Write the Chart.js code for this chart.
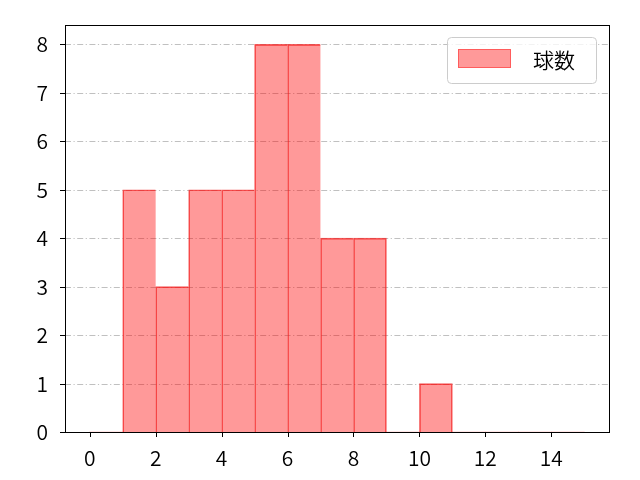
<!DOCTYPE html>
<html>
<head>
<meta charset="utf-8">
<script src="https://cdn.jsdelivr.net/npm/chart.js@4/dist/chart.umd.min.js"></script>
<style>
  html, body { margin: 0; padding: 0; background: #fff; }
  #wrap { width: 640px; height: 480px; }
</style>
</head>
<body>
<div id="wrap"><canvas id="hist"></canvas></div>
<script>
// histogram bins (left edge) and counts
var bin_starts = [0, 1, 2, 3, 4, 5, 6, 7, 8, 9, 10, 11, 12, 13, 14];
var counts = [0, 5, 3, 5, 5, 8, 8, 4, 4, 0, 1, 0, 0, 0, 0];
var x_ticks = [0, 2, 4, 6, 8, 10, 12, 14];
var y_ticks = [0, 1, 2, 3, 4, 5, 6, 7, 8];
var series_label = '球数';

var font_family = '"Noto Sans CJK JP", "DejaVu Sans", sans-serif';
var font_weight = '350';

var points = [];
for (let i = 0; i < bin_starts.length; i++) {
    points.push({ x: bin_starts[i] + 0.5, y: counts[i] });
}

// one edge line between neighbouring bars, like matplotlib
function bar_border(c) {
    var i = c.dataIndex;
    if (!(counts[i] > 0)) return 0;
    var next = counts[i + 1] || 0;
    return { left: 1, top: 1, bottom: 0, right: next > 0 ? 0 : 1 };
}

// frame, dash-dot grid, tick marks and legend box
var mpl_plugin = {
    id: 'mpl',
    beforeDatasetsDraw: function(chart) {
        var ctx = chart.ctx;
        var a = chart.chartArea;
        var ys = chart.scales.y;
        ctx.save();
        ctx.strokeStyle = '#b0b0b0';
        ctx.lineWidth = 0.8;
        ctx.setLineDash([6, 2.5, 1.2, 2.5]);
        y_ticks.forEach(function(v) {
            var py = Math.round(ys.getPixelForValue(v)) + 0.5;
            ctx.beginPath();
            ctx.moveTo(a.left, py);
            ctx.lineTo(a.right, py);
            ctx.stroke();
        });
        ctx.restore();
    },
    afterDatasetsDraw: function(chart) {
        var ctx = chart.ctx;
        var a = chart.chartArea;
        var xs = chart.scales.x;
        var ys = chart.scales.y;
        ctx.save();
        ctx.strokeStyle = '#000';
        ctx.lineWidth = 1;
        ctx.strokeRect(Math.round(a.left) + 0.5, Math.round(a.top) + 0.5,
            Math.round(a.right - a.left), Math.round(a.bottom - a.top));
        ctx.beginPath();
        x_ticks.forEach(function(v) {
            var px = Math.round(xs.getPixelForValue(v)) + 0.5;
            ctx.moveTo(px, a.bottom);
            ctx.lineTo(px, a.bottom + 5);
        });
        y_ticks.forEach(function(v) {
            var py = Math.round(ys.getPixelForValue(v)) + 0.5;
            ctx.moveTo(a.left, py);
            ctx.lineTo(a.left - 5, py);
        });
        ctx.stroke();

        // legend
        var bx = a.right - 162, by = a.top + 12, bw = 149, bh = 46;
        ctx.fillStyle = 'rgba(255,255,255,0.8)';
        ctx.strokeStyle = '#cccccc';
        ctx.lineWidth = 1;
        ctx.beginPath();
        ctx.roundRect(bx + 0.5, by + 0.5, bw, bh, 4);
        ctx.fill();
        ctx.stroke();
        ctx.fillStyle = 'rgba(255,0,0,0.4)';
        ctx.strokeStyle = 'rgba(255,0,0,0.4)';
        ctx.fillRect(bx + 11, by + 12, 53, 19);
        ctx.strokeRect(bx + 11.5, by + 12.5, 52, 18);
        ctx.fillStyle = '#000';
        ctx.font = font_weight + ' 21px ' + font_family;
        ctx.textBaseline = 'middle';
        ctx.fillText(series_label, bx + 86, by + 23);
        ctx.restore();
    }
};

new Chart(document.getElementById('hist'), {
    type: 'bar',
    data: {
        datasets: [{
            label: series_label,
            data: points,
            backgroundColor: 'rgba(255,0,0,0.4)',
            borderColor: 'rgba(240,40,40,0.75)',
            borderWidth: bar_border,
            borderSkipped: false,
            barPercentage: 1.0,
            categoryPercentage: 1.0,
            grouped: false
        }]
    },
    options: {
        responsive: true,
        maintainAspectRatio: false,
        animation: false,
        layout: { padding: { left: 0, right: 31, top: 25, bottom: 0 } },
        plugins: {
            legend: { display: false },
            tooltip: { enabled: false }
        },
        scales: {
            x: {
                type: 'linear',
                offset: false,
                min: -0.75,
                max: 15.75,
                afterBuildTicks: function(s) { s.ticks = x_ticks.map(function(v) { return { value: v }; }); },
                afterFit: function(s) { s.height = 48; },
                grid: { display: false, offset: false },
                border: { display: false },
                ticks: {
                    autoSkip: false,
                    maxRotation: 0,
                    padding: 5,
                    color: '#000',
                    font: { family: font_family, size: 21, weight: font_weight }
                }
            },
            y: {
                min: 0,
                max: 8.4,
                afterBuildTicks: function(s) { s.ticks = y_ticks.map(function(v) { return { value: v }; }); },
                afterFit: function(s) { s.width = 65; },
                grid: { display: false },
                border: { display: false },
                ticks: {
                    padding: 9,
                    color: '#000',
                    font: { family: font_family, size: 21, weight: font_weight }
                }
            }
        }
    },
    plugins: [mpl_plugin]
});
</script>
</body>
</html>
